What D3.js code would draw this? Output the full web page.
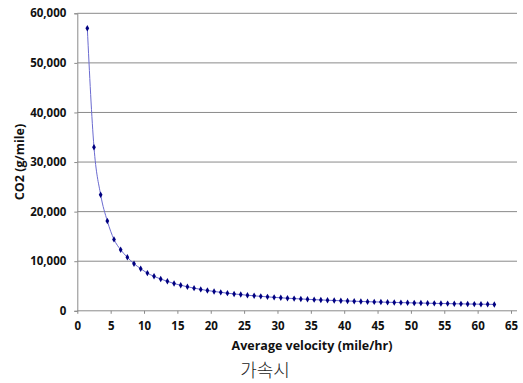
<!DOCTYPE html>
<html lang="ko">
<head>
<meta charset="utf-8">
<script src="https://cdn.jsdelivr.net/npm/d3@7"></script>
<style>
  body { margin: 0; background: #fff; }
  text { font-family: "Open Sans", "DejaVu Sans", sans-serif; }
</style>
</head>
<body>
<div id="chart"></div>
<script>
// velocity (mile/hr) and CO2 (g/mile)
var velocity = [1.5, 2.5, 3.5, 4.5, 5.5, 6.5, 7.5, 8.5, 9.5, 10.5,
  11.5, 12.5, 13.5, 14.5, 15.5, 16.5, 17.5, 18.5, 19.5, 20.5,
  21.5, 22.5, 23.5, 24.5, 25.5, 26.5, 27.5, 28.5, 29.5, 30.5,
  31.5, 32.5, 33.5, 34.5, 35.5, 36.5, 37.5, 38.5, 39.5, 40.5,
  41.5, 42.5, 43.5, 44.5, 45.5, 46.5, 47.5, 48.5, 49.5, 50.5,
  51.5, 52.5, 53.5, 54.5, 55.5, 56.5, 57.5, 58.5, 59.5, 60.5,
  61.5, 62.5];
var co2 = [57000, 33000, 23400, 18100, 14400, 12300, 10800, 9500, 8500, 7600,
  6950, 6400, 5950, 5500, 5150, 4850, 4570, 4320, 4100, 3900,
  3720, 3560, 3400, 3270, 3140, 3020, 2910, 2810, 2710, 2620,
  2540, 2460, 2390, 2320, 2250, 2190, 2130, 2080, 2030, 1980,
  1930, 1880, 1840, 1800, 1760, 1720, 1690, 1650, 1620, 1590,
  1560, 1530, 1500, 1470, 1450, 1420, 1400, 1370, 1350, 1330,
  1310, 1290];
var xTicks = [0, 5, 10, 15, 20, 25, 30, 35, 40, 45, 50, 55, 60, 65];
var yTicks = [0, 10000, 20000, 30000, 40000, 50000, 60000];

var data = velocity.map(function (v, i) { return { v: v, c: co2[i] }; });

var width = 523, height = 383;
var svg = d3.select("#chart").append("svg")
  .attr("width", width).attr("height", height);

var x = d3.scaleLinear().domain([0, 65]).range([77.3, 511]);
var y = d3.scaleLinear().domain([0, 60000]).range([310.8, 13.3]);

// gridlines
svg.append("g")
  .selectAll("line")
  .data(yTicks.slice(1))
  .join("line")
  .attr("x1", x(0)).attr("x2", 517)
  .attr("y1", function (d) { return y(d); })
  .attr("y2", function (d) { return y(d); })
  .attr("stroke", "#8a8a8a").attr("stroke-width", 1);

// y axis
var yAxis = svg.append("g")
  .attr("transform", "translate(" + x(0) + ",0)")
  .call(d3.axisLeft(y).tickValues(yTicks).tickSize(3).tickPadding(8)
    .tickFormat(d3.format(",")));
yAxis.select(".domain").attr("stroke", "#8a8a8a");
yAxis.selectAll(".tick line").attr("stroke", "#8a8a8a");
yAxis.selectAll("text")
  .style("font-size", "11.5px").style("font-weight", "bold").attr("fill", "#111");

// x axis
var xAxis = svg.append("g")
  .attr("transform", "translate(0," + y(0) + ")")
  .call(d3.axisBottom(x).tickValues(xTicks).tickSize(3).tickPadding(8));
xAxis.select(".domain").attr("stroke", "#8a8a8a")
  .attr("d", "M" + x(0) + ",0H517");
xAxis.selectAll(".tick line").attr("stroke", "#8a8a8a");
xAxis.selectAll("text")
  .style("font-size", "11.5px").style("font-weight", "bold").attr("fill", "#111");

// line
svg.append("path")
  .datum(data)
  .attr("fill", "none")
  .attr("stroke", "#6b6bd0")
  .attr("stroke-width", 1)
  .attr("d", d3.line().curve(d3.curveMonotoneX)
    .x(function (d) { return x(d.v); })
    .y(function (d) { return y(d.c); }));

// markers
svg.append("g")
  .selectAll("path")
  .data(data)
  .join("path")
  .attr("transform", function (d) { return "translate(" + x(d.v) + "," + y(d.c) + ")"; })
  .attr("d", d3.symbol().type(d3.symbolDiamond).size(12))
  .attr("fill", "#000080");

// axis titles
svg.append("text")
  .attr("x", 312).attr("y", 350)
  .attr("text-anchor", "middle")
  .style("font-size", "12.5px").style("font-weight", "bold").attr("fill", "#111")
  .text("Average velocity (mile/hr)");

svg.append("text")
  .attr("transform", "rotate(-90)")
  .attr("x", -162).attr("y", 24)
  .attr("text-anchor", "middle")
  .style("font-size", "12.5px").style("font-weight", "bold").attr("fill", "#111")
  .text("CO2 (g/mile)");

svg.append("text")
  .attr("x", 265).attr("y", 377)
  .attr("text-anchor", "middle")
  .style("font-family", "'Noto Sans CJK KR', sans-serif")
  .style("font-size", "18px").style("font-weight", "300").attr("fill", "#222")
  .text("가속시");
</script>
</body>
</html>
